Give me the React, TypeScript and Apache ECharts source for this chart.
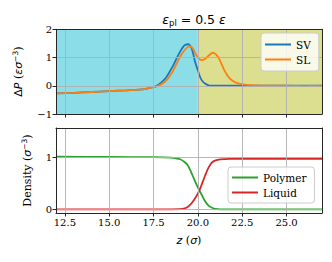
import React, { useEffect, useRef } from 'react';
import * as echarts from 'echarts';

const X_MIN = 12;
const X_MAX = 27;
const xTicks = [12.5, 15, 17.5, 20, 22.5, 25];
const topYTicks = [-1, 0, 1, 2];
const botYTicks = [0, 1];
const TOP_Y_MIN = -1;
const TOP_Y_MAX = 2;
const BOT_Y_MIN = -0.07;
const BOT_Y_MAX = 1.56;
const SPLIT_Z = 20;

const svZ = [12, 13, 14, 15, 16, 17, 17.3, 17.6, 17.87, 18.05, 18.24, 18.43, 18.62, 18.8, 18.99, 19.15, 19.28, 19.43, 19.55, 19.65, 19.75, 19.84, 20.0, 20.12, 20.25, 20.4, 20.55, 20.69, 21, 22, 23, 24, 25, 26, 27];
const svP = [-0.27, -0.25, -0.22, -0.19, -0.16, -0.12, -0.07, -0.03, 0.08, 0.18, 0.32, 0.52, 0.73, 0.97, 1.2, 1.36, 1.44, 1.47, 1.43, 1.32, 1.1, 0.85, 0.55, 0.32, 0.17, 0.08, 0.03, 0.0, 0, 0, 0, 0, 0, 0, 0];

const slZ = [12, 13, 14, 15, 16, 17, 17.3, 17.6, 17.87, 18.05, 18.24, 18.43, 18.62, 18.8, 18.99, 19.2, 19.39, 19.54, 19.65, 19.77, 19.9, 20.05, 20.2, 20.35, 20.5, 20.67, 20.84, 21.0, 21.16, 21.3, 21.44, 21.58, 21.72, 21.85, 22.0, 22.19, 22.56, 23.0, 23.3, 24, 25, 26, 27];
const slP = [-0.27, -0.25, -0.22, -0.19, -0.16, -0.12, -0.07, -0.04, 0.03, 0.1, 0.2, 0.36, 0.55, 0.78, 1.02, 1.22, 1.35, 1.4, 1.37, 1.26, 1.1, 0.97, 0.91, 0.93, 1.0, 1.1, 1.17, 1.12, 1.0, 0.82, 0.62, 0.45, 0.32, 0.23, 0.16, 0.1, 0.05, 0.02, 0.01, 0.0, 0.0, -0.01, 0.0];

const polyZ = [12, 15, 17.5, 18.5, 18.8, 19.0, 19.2, 19.4, 19.6, 19.8, 20.0, 20.2, 20.4, 20.6, 20.8, 21.0, 21.5, 22, 27];
const polyRho = [1.01, 1.005, 1.0, 0.99, 0.975, 0.96, 0.92, 0.86, 0.73, 0.57, 0.42, 0.29, 0.16, 0.07, 0.03, 0.01, 0.0, 0.0, 0.0];

const liqZ = [12, 18.5, 19.0, 19.2, 19.4, 19.6, 19.8, 20.0, 20.2, 20.4, 20.6, 20.8, 21.0, 21.25, 21.6, 22, 27];
const liqRho = [0, 0, 0.003, 0.012, 0.04, 0.1, 0.19, 0.3, 0.46, 0.64, 0.8, 0.9, 0.94, 0.96, 0.965, 0.97, 0.97];

const SERIF = 'DejaVu Serif';
const SANS = 'DejaVu Sans';
const AXIS_COLOR = '#262626';
const GRID_COLOR = '#b0b0b0';

const pairs = (xs: number[], ys: number[]) => xs.map((x, i) => [x, ys[i]]);
const fmtMinus = (v: number) => (v < 0 ? '\u2212' + String(-v) : String(v));

const richLabel = {
  d: { fontFamily: SANS, fontSize: 11, color: '#000', lineHeight: 14 },
  i: { fontFamily: SANS, fontSize: 11, fontStyle: 'italic', color: '#000', lineHeight: 14 },
  p: { fontFamily: SERIF, fontSize: 11, color: '#000', lineHeight: 14 },
  s: { fontFamily: SANS, fontSize: 7.5, color: '#000', verticalAlign: 'top', lineHeight: 10 },
};

export default function App() {
  const ref = useRef<HTMLDivElement>(null);
  useEffect(() => {
    document.body.style.margin = '0';
    if (!ref.current) return;
    const chart = echarts.init(ref.current, undefined, { renderer: 'svg' });

    const grids = [
      { left: 56, top: 29.3, width: 266, height: 84.7 },
      { left: 56, top: 128, width: 266, height: 85 },
    ];

    const tickLabelStyle = { fontFamily: SERIF, fontSize: 10, color: '#000' };

    const frameAxis = (gridIndex: number, position: string, min: number, max: number) => ({
      type: 'value',
      gridIndex,
      position,
      min,
      max,
      z: 6,
      axisLine: { show: true, onZero: false, lineStyle: { color: AXIS_COLOR, width: 1 } },
      axisTick: { show: false },
      axisLabel: { show: false },
      splitLine: { show: false },
    });

    const xAxis: any[] = [
      {
        ...frameAxis(0, 'bottom', X_MIN, X_MAX),
        axisTick: { show: true, inside: false, length: 3.5, customValues: xTicks, lineStyle: { color: AXIS_COLOR } },
      },
      frameAxis(0, 'top', X_MIN, X_MAX),
      {
        ...frameAxis(1, 'bottom', X_MIN, X_MAX),
        axisTick: { show: true, inside: false, length: 3.5, customValues: xTicks, lineStyle: { color: AXIS_COLOR } },
        axisLabel: { show: true, customValues: xTicks, formatter: (v: number) => v.toFixed(1), margin: 4, ...tickLabelStyle },
        name: '{i|z}{p| (}{i|σ}{p|)}',
        nameLocation: 'middle',
        nameGap: 20,
        nameTextStyle: { rich: richLabel },
      },
      frameAxis(1, 'top', X_MIN, X_MAX),
    ];

    const yAxis: any[] = [
      {
        ...frameAxis(0, 'left', TOP_Y_MIN, TOP_Y_MAX),
        axisTick: { show: true, inside: false, length: 3.5, customValues: topYTicks, lineStyle: { color: AXIS_COLOR } },
        axisLabel: { show: true, customValues: topYTicks, formatter: fmtMinus, margin: 4, ...tickLabelStyle },
        name: '{d|Δ}{i|P}{p| (}{i|εσ}{s|−3}{p|)}',
        nameLocation: 'middle',
        nameRotate: 90,
        nameGap: 31,
        nameTextStyle: { rich: richLabel },
      },
      frameAxis(0, 'right', TOP_Y_MIN, TOP_Y_MAX),
      {
        ...frameAxis(1, 'left', BOT_Y_MIN, BOT_Y_MAX),
        axisTick: { show: true, inside: false, length: 3.5, customValues: botYTicks, lineStyle: { color: AXIS_COLOR } },
        axisLabel: { show: true, customValues: botYTicks, formatter: fmtMinus, margin: 4, ...tickLabelStyle },
        name: '{p|Density (}{i|σ}{s|−3}{p|)}',
        nameLocation: 'middle',
        nameRotate: 90,
        nameGap: 22,
        nameTextStyle: { rich: richLabel },
      },
      frameAxis(1, 'right', BOT_Y_MIN, BOT_Y_MAX),
    ];

    const gridLineSeries = (gi: number, yTicks: number[]) => ({
      type: 'line',
      xAxisIndex: gi * 2,
      yAxisIndex: gi * 2,
      data: [[X_MIN, yTicks[0]]],
      symbol: 'none',
      lineStyle: { opacity: 0 },
      silent: true,
      z: 2,
      markLine: {
        silent: true,
        symbol: ['none', 'none'],
        label: { show: false },
        lineStyle: { color: GRID_COLOR, width: 0.9, type: 'solid' },
        emphasis: { disabled: true },
        data: [
          ...xTicks.map((v) => ({ xAxis: v })),
          ...yTicks.map((v) => ({ yAxis: v })),
        ],
      },
    });

    const lineSeries = (name: string, gi: number, data: number[][], color: string) => ({
      name,
      type: 'line',
      xAxisIndex: gi * 2,
      yAxisIndex: gi * 2,
      data,
      symbol: 'none',
      smooth: 0.3,
      z: 4,
      lineStyle: { color, width: 1.8 },
      itemStyle: { color },
    });

    const legendBase = {
      orient: 'vertical',
      icon: 'rect',
      itemWidth: 26,
      itemHeight: 2,
      itemGap: 4,
      z: 10,
      backgroundColor: 'rgba(255,255,255,0.8)',
      borderColor: '#cccccc',
      borderWidth: 1,
      borderRadius: 3,
      textStyle: { fontFamily: SERIF, fontSize: 10.5, color: '#000' },
      selectedMode: false,
    };

    chart.setOption({
      animation: false,
      title: {
        text: '{e|ε}{s|pl}{n| = 0.5 }{e|ε}',
        left: 189,
        top: 6,
        textAlign: 'center',
        textStyle: {
          fontWeight: 'normal',
          rich: {
            e: { fontFamily: SANS, fontSize: 12.5, fontStyle: 'italic', fontWeight: 'normal', color: '#000', lineHeight: 16 },
            n: { fontFamily: SANS, fontSize: 12.5, fontWeight: 'normal', color: '#000', lineHeight: 16 },
            s: { fontFamily: SANS, fontSize: 8.5, fontWeight: 'normal', color: '#000', verticalAlign: 'bottom', lineHeight: 11 },
          },
        },
      },
      grid: grids,
      xAxis,
      yAxis,
      legend: [
        { ...legendBase, data: ['SV', 'SL'], left: 261, top: 33, padding: [6, 8, 6, 4] },
        { ...legendBase, data: ['Polymer', 'Liquid'], left: 228, top: 167, padding: [5, 8, 5, 4] },
      ],
      series: [
        {
          type: 'line',
          xAxisIndex: 0,
          yAxisIndex: 0,
          data: [[X_MIN, 0]],
          symbol: 'none',
          lineStyle: { opacity: 0 },
          silent: true,
          z: 1,
          markArea: {
            silent: true,
            data: [
              [{ xAxis: X_MIN, itemStyle: { color: '#8bdee7' } }, { xAxis: SPLIT_Z }],
              [{ xAxis: SPLIT_Z, itemStyle: { color: '#dddf90' } }, { xAxis: X_MAX }],
            ],
          },
        },
        gridLineSeries(0, topYTicks),
        gridLineSeries(1, botYTicks),
        lineSeries('SV', 0, pairs(svZ, svP), '#1f77b4'),
        lineSeries('SL', 0, pairs(slZ, slP), '#ff7f0e'),
        lineSeries('Polymer', 1, pairs(polyZ, polyRho), '#2ca02c'),
        lineSeries('Liquid', 1, pairs(liqZ, liqRho), '#d62728'),
      ],
    });
    return () => chart.dispose();
  }, []);
  return <div ref={ref} style={{ width: 332, height: 262 }} />;
}
